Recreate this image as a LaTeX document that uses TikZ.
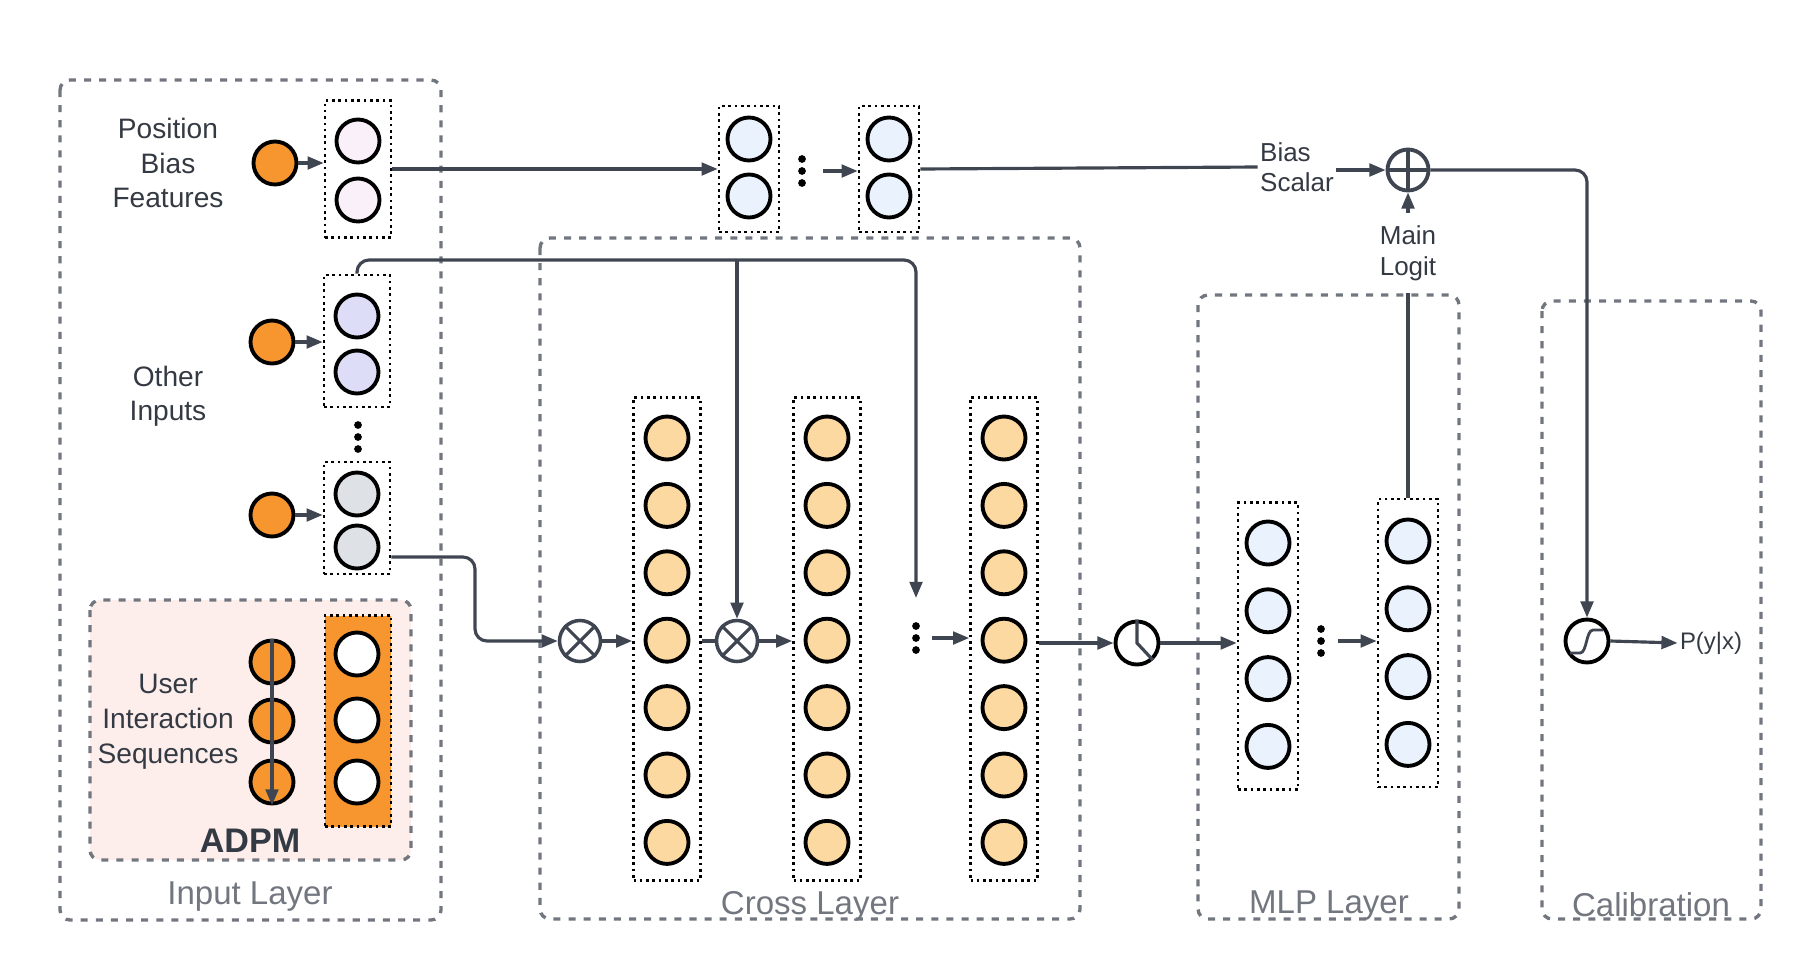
\documentclass[tikz,border=0pt]{standalone}
\usepackage{fontspec}
\setmainfont{Liberation Sans}
\usetikzlibrary{arrows.meta}

\definecolor{wiregray}{HTML}{3F4651}
\definecolor{boxgray}{HTML}{72767F}
\definecolor{textgray}{HTML}{343A43}
\definecolor{inorange}{HTML}{F7962F}
\definecolor{pbfill}{HTML}{FAF0FA}
\definecolor{oifill}{HTML}{DDDDF7}
\definecolor{grayfill}{HTML}{DEE1E5}
\definecolor{bluefill}{HTML}{EAF3FD}
\definecolor{peach}{HTML}{FCD9A0}
\definecolor{adpmpink}{HTML}{FDEEEC}

\tikzset{
	neuron/.style = {circle, draw = black, line width = 1.1pt, minimum size = 4.3mm, inner sep = 0pt},
	tower/.style = {draw = black, line width = 0.75pt, dash pattern = on 0.75pt off 1.05pt, inner sep = 0pt},
	layerbox/.style = {draw = boxgray, line width = 0.95pt, dash pattern = on 2pt off 2.3pt, rounded corners = 1mm},
	wire/.style = {wiregray, line width = 0.9pt},
	opnode/.style = {circle, draw = wiregray, line width = 1pt, minimum size = 4.1mm, inner sep = 0pt},
	txt/.style = {text = textgray, align = center, font = \fontsize{8}{9.8}\selectfont},
	layername/.style = {text = boxgray, font = \fontsize{9.4}{11}\selectfont}
}

\begin{document}
\begin{tikzpicture}[> = {Triangle[length = 4.6pt, width = 3.6pt]}, x = 0.1mm, y = -0.1mm]

	\useasboundingbox (0, 0) rectangle (1800, 960);

	% Layer frames

	\draw [layerbox] (60, 80) rectangle (441, 920);
	\draw [layerbox] (540, 238) rectangle (1080, 919);
	\draw [layerbox] (1198, 295) rectangle (1459, 919);
	\draw [layerbox] (1542, 301) rectangle (1761, 919);
	\draw [layerbox, fill = adpmpink] (90, 600) rectangle (411, 860);

	\node [layername] (inname) at (250, 897) {Input Layer};
	\node [layername] (crossname) at (810, 906) {Cross Layer};
	\node [layername] (mlpname) at (1329, 906) {MLP Layer};
	\node [layername] (calname) at (1651, 905) {Calibration};

	% Input layer

	\node [txt] (pbtxt) at (168, 163) {Position\\Bias\\Features};
	\node [neuron, fill = inorange] (pbin) at (275, 163) {};
	\node [tower, minimum width = 6.6mm, minimum height = 13.7mm] (pbt) at (358, 169) {};
	\node [neuron, fill = pbfill] (pb1) at (358, 141) {};
	\node [neuron, fill = pbfill] (pb2) at (358, 200) {};

	\node [txt] (oitxt) at (168, 396) {Other\\Inputs};
	\node [neuron, fill = inorange] (oiin) at (272, 342) {};
	\node [tower, minimum width = 6.6mm, minimum height = 13.2mm] (oit) at (357, 341) {};
	\node [neuron, fill = oifill] (oi1) at (357, 316) {};
	\node [neuron, fill = oifill] (oi2) at (357, 372) {};

	\node [neuron, fill = inorange] (gin) at (272, 515) {};
	\node [tower, minimum width = 6.6mm, minimum height = 11.2mm] (gt) at (357, 518) {};
	\node [neuron, fill = grayfill] (g1) at (357, 494) {};
	\node [neuron, fill = grayfill] (g2) at (357, 547) {};

	% ADPM block

	\node [txt, font = \fontsize{8}{10}\selectfont] (uistxt) at (168, 722) {User\\Interaction\\Sequences};
	\foreach \k/\y in {1/662, 2/721, 3/782}
		\node [neuron, fill = inorange] (u\k) at (272, \y) {};
	\node [tower, fill = inorange, minimum width = 6.6mm, minimum height = 21.1mm] (adt) at (358, 721) {};
	\foreach \k/\y in {1/654, 2/720, 3/782}
		\node [neuron, fill = white] (a\k) at (357, \y) {};
	\node [text = textgray, font = \bfseries\fontsize{9.7}{11}\selectfont] (adpm) at (250, 841) {ADPM};

	% Bias tower

	\foreach \b/\x in {1/749, 2/889} {
		\node [tower, minimum width = 6mm, minimum height = 12.6mm] (bt\b) at (\x, 169) {};
		\node [neuron, fill = bluefill] (b\b a) at (\x, 139) {};
		\node [neuron, fill = bluefill] (b\b b) at (\x, 196) {};
	}

	\node [txt, align = left, font = \fontsize{7.4}{8.6}\selectfont, inner xsep = 0.5pt] (bias) at (1297, 167) {Bias\\Scalar};
	\node [opnode, line width = 1.1pt] (op) at (1408, 170) {};
	\draw [wire, line width = 1.1pt] (op.north) -- (op.south) (op.west) -- (op.east);
	\node [txt, font = \fontsize{7.4}{8.8}\selectfont] (logit) at (1408, 253) {Main\\Logit};

	% Cross layer

	\foreach \c/\x in {1/667, 2/827, 3/1004} {
		\node [tower, minimum width = 6.7mm, minimum height = 48.3mm] (ct\c) at (\x, 639) {};
		\foreach \k in {0, ..., 6}
			\node [neuron, fill = peach] (c\c n\k) at (\x, {438 + 67.4 * \k}) {};
	}

	\node [opnode] (ot1) at (580, 641) {};
	\node [opnode] (ot2) at (737, 641) {};
	\foreach \o in {ot1, ot2}
		\draw [wire] (\o.north west) -- (\o.south east) (\o.north east) -- (\o.south west);

	\node [neuron, fill = white] (act) at (1137, 643) {};
	\draw [wire] (act.north) -- (act.center) -- (act.-47);

	% MLP layer

	\node [tower, minimum width = 6mm, minimum height = 28.7mm] (m1) at (1268, 646) {};
	\node [tower, minimum width = 6mm, minimum height = 28.8mm] (m2) at (1408, 643) {};
	\foreach \k in {0, ..., 3} {
		\node [neuron, fill = bluefill] (m1n\k) at (1268, {543 + 67.8 * \k}) {};
		\node [neuron, fill = bluefill] (m2n\k) at (1408, {541 + 67.8 * \k}) {};
	}

	% Calibration

	\node [neuron, fill = white] (sig) at (1587, 641) {};
	\begin{scope}[shift = {(sig.center)}]
		\draw [wire, line width = 0.8pt] (-17, 12) -- (-7, 12) .. controls (0, 12) and (-1, -11) .. (6, -11) -- (16, -11);
	\end{scope}
	\node [text = textgray, font = \fontsize{6.8}{8}\selectfont, inner sep = 0.5pt] (pyx) at (1711, 643) {P(y|x)};

	% Ellipses

	\coordinate (oidots) at (358, 437);
	\coordinate (bdots) at (802, 171);
	\coordinate (xdots) at (916, 638);
	\coordinate (mdots) at (1321, 641);
	\foreach \p in {oidots, bdots, xdots, mdots}
		\foreach \d in {-12, 0, 12}
			\fill (\p) ++(0, \d) circle [radius = 1.1pt];

	% Connectors

	\coordinate (xin) at (916, 598);
	\coordinate (busy) at (0, 260);
	\coordinate (bend) at (475, 0);

	\draw [wire, ->] (pbin.east) -- (pbt.west |- pbin);
	\draw [wire, ->] (oiin.east) -- (oit.west |- oiin);
	\draw [wire, ->] (gin.east) -- (gt.west |- gin);
	\draw [wire, ->] (u1.north) -- (u3.south);

	\draw [wire, ->] (pbt.east) -- (bt1.west);
	\draw [wire, ->] ([xshift = 2.1mm] bdots) -- (bt2.west |- bdots);
	\draw [wire] (bt2.east) -- (bias.west);
	\draw [wire, ->] (bias.east |- op) -- (op.west);
	\draw [wire] (m2.north) -- (logit.south);
	\draw [wire, ->] (logit.north) -- (op.south);
	\draw [wire, ->, rounded corners = 1.2mm] (op.east) -| (sig.north);
	\draw [wire, ->] (sig.east) -- (pyx.west);

	\draw [wire, ->, rounded corners = 1.2mm] (oit.north) |- (xin |- busy) -- (xin);
	\draw [wire, ->] (ot2 |- busy) -- (ot2.north);
	\draw [wire, ->, rounded corners = 1.2mm] ([yshift = -1mm] gt.east |- g2) -| (bend |- ot1) -- (ot1.west);

	\draw [wire, ->] (ot1.east) -- (ct1.west |- ot1);
	\draw [wire] (ct1.east |- ot2) -- (ot2.west);
	\draw [wire, ->] (ot2.east) -- (ct2.west |- ot2);
	\draw [wire, ->] ([xshift = 1.6mm] xdots) -- (ct3.west |- xdots);
	\draw [wire, ->] (ct3.east |- act) -- (act.west);
	\draw [wire, ->] (act.east) -- (m1.west |- act);
	\draw [wire, ->] ([xshift = 1.7mm] mdots) -- (m2.west |- mdots);

\end{tikzpicture}
\end{document}
